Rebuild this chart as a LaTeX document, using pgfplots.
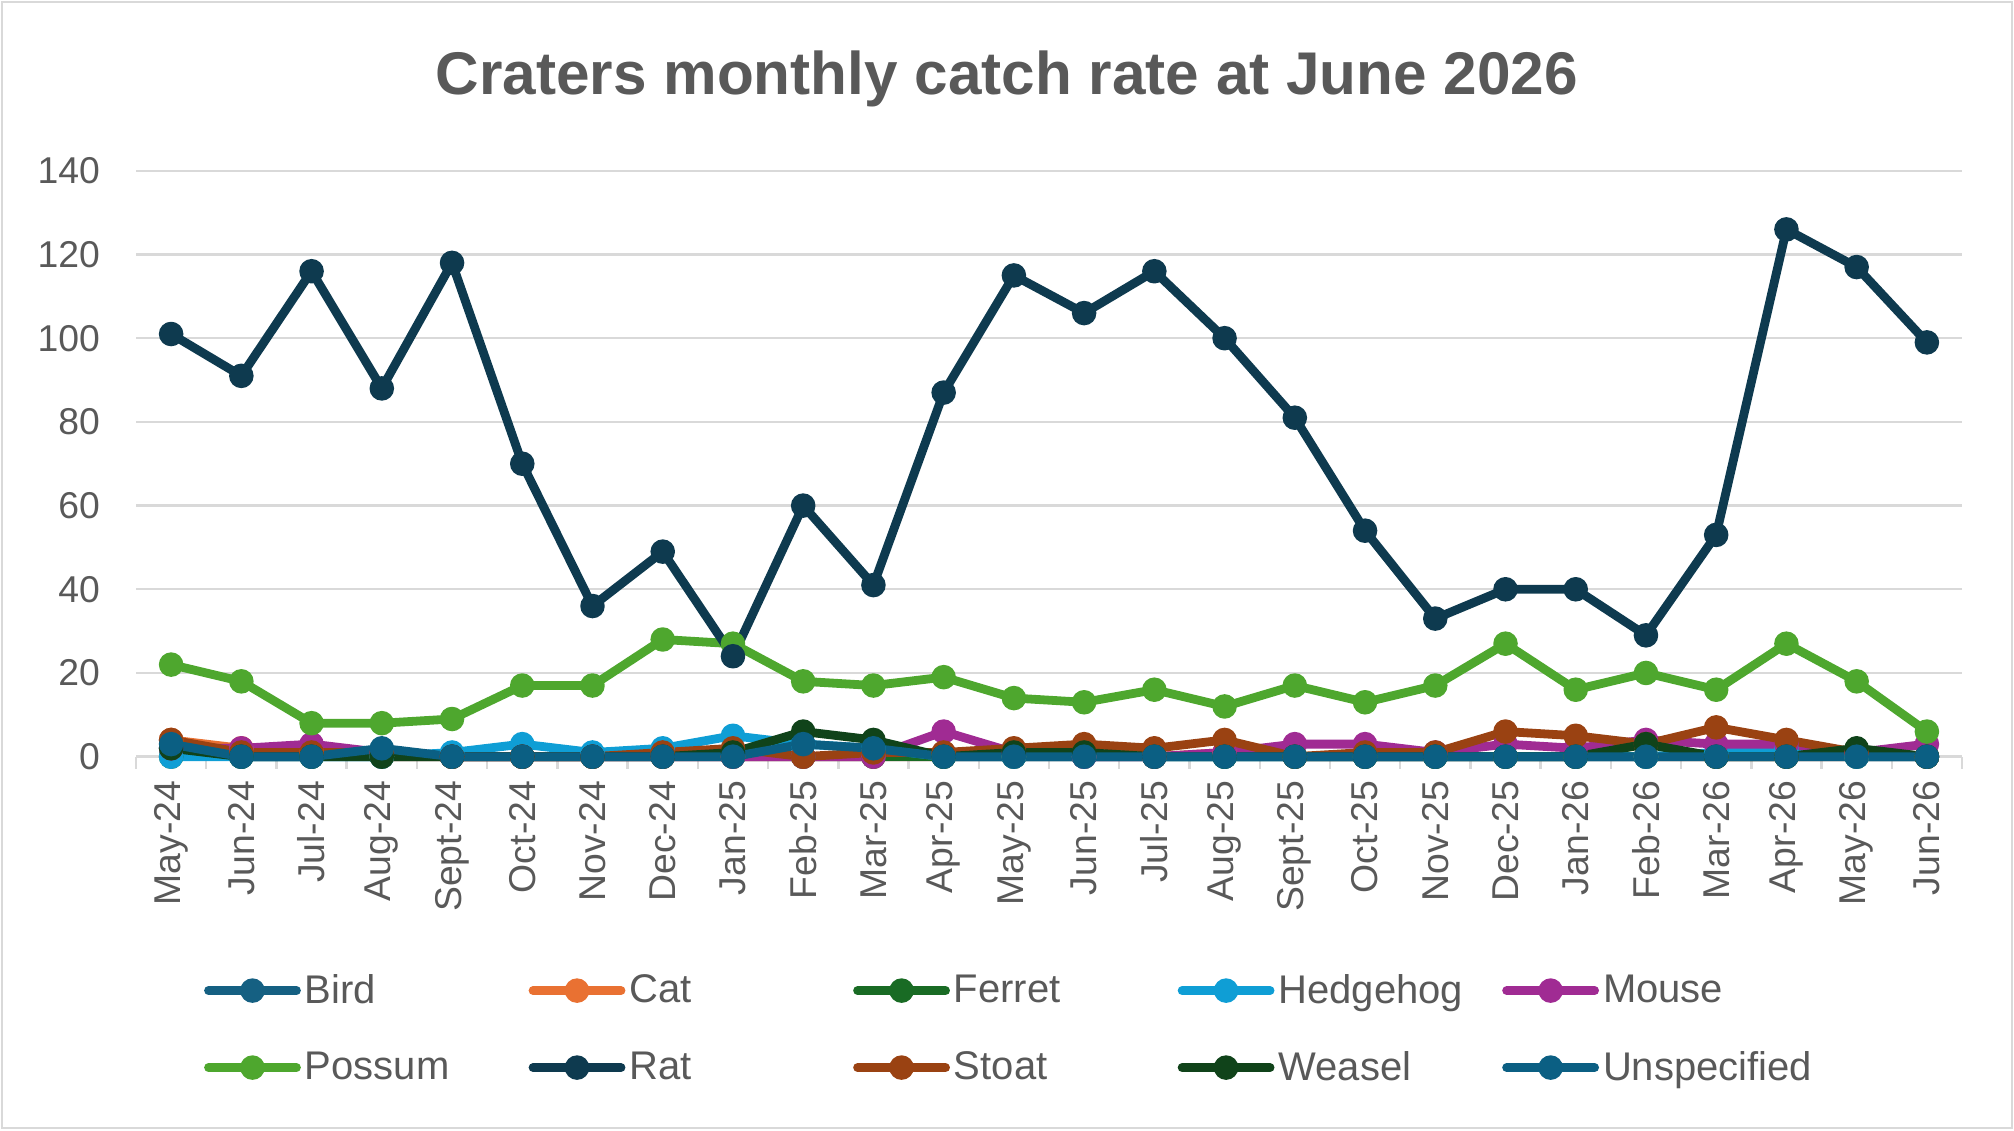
\documentclass[border=0pt]{standalone}
\usepackage{pgfplots}
\pgfplotsset{compat=1.18}
\usepackage{pgfplotstable}
\usepackage{fontspec}
\setmainfont{Liberation Sans}
\definecolor{cBird}{HTML}{156082}
\definecolor{cCat}{HTML}{E97132}
\definecolor{cFerret}{HTML}{196B24}
\definecolor{cHedgehog}{HTML}{0F9ED5}
\definecolor{cMouse}{HTML}{A02B93}
\definecolor{cPossum}{HTML}{4EA72E}
\definecolor{cRat}{HTML}{0E3A4F}
\definecolor{cStoat}{HTML}{9A4212}
\definecolor{cWeasel}{HTML}{10431A}
\definecolor{cUnspec}{HTML}{0B5F83}
\definecolor{gridgray}{HTML}{D9D9D9}
\definecolor{txtgray}{HTML}{595959}

\pgfplotstableread{
x Bird Cat Ferret Hedgehog Mouse Possum Rat Stoat Weasel Unspec
0  2 4 0 0 2 22 101 4 2 3
1  0 2 0 0 2 18 91  1 0 0
2  0 1 0 0 3 8  116 1 0 0
3  0 0 0 0 1 8  88  1 0 2
4  0 0 0 1 0 9  118 0 0 0
5  0 0 0 3 0 17 70  0 0 0
6  0 0 0 1 0 17 36  0 0 0
7  0 0 0 2 0 28 49  1 0 0
8  0 0 0 5 0 27 24  2 1 0
9  0 0 0 3 0 18 60  0 6 3
10 0 0 0 2 0 17 41  1 4 2
11 0 0 0 0 6 19 87  1 0 0
12 0 0 0 0 1 14 115 2 1 0
13 0 0 0 0 0 13 106 3 1 0
14 0 0 0 0 0 16 116 2 0 0
15 0 1 0 0 1 12 100 4 0 0
16 0 0 0 0 3 17 81  0 0 0
17 0 0 0 0 3 13 54  1 0 0
18 0 0 0 0 1 17 33  1 0 0
19 0 0 0 0 3 27 40  6 0 0
20 0 0 0 0 2 16 40  5 0 0
21 0 0 0 0 4 20 29  3 3 0
22 0 0 0 1 3 16 53  7 0 0
23 0 0 0 2 3 27 126 4 0 0
24 0 0 0 0 1 18 117 1 2 0
25 0 0 0 0 3 6  99  0 0 0
}\catch

\begin{document}
\begin{tikzpicture}[x=1pt,y=1pt]
\useasboundingbox (0,0) rectangle (755.25,423.75);
\draw[color=gridgray, line width=0.9pt] (0.7,0.7) rectangle (754.55,423.05);
\node[font=\fontsize{22.6}{26}\selectfont\bfseries, text=txtgray] at (377.6,394.2) {Craters monthly catch rate at June 2026};
\begin{axis}[
  at={(51pt,140pt)}, anchor=south west,
  scale only axis, width=684.75pt, height=219.7pt,
  xmin=-0.5, xmax=25.5, ymin=0, ymax=140,
  clip=false,
  axis line style={draw=none},
  ytick={0,20,...,140},
  ymajorgrids, grid style={gridgray, line width=0.9pt},
  major tick length=0pt,
  xtick pos=bottom,
  xtick={0,...,25},
  xticklabels={May-24,Jun-24,Jul-24,Aug-24,Sept-24,Oct-24,Nov-24,Dec-24,Jan-25,Feb-25,Mar-25,Apr-25,May-25,Jun-25,Jul-25,Aug-25,Sept-25,Oct-25,Nov-25,Dec-25,Jan-26,Feb-26,Mar-26,Apr-26,May-26,Jun-26},
  xticklabel style={rotate=90, anchor=east, xshift=-5.6pt},
  extra x ticks={-0.5,0.5,...,25.5},
  extra x tick labels={},
  extra x tick style={grid=none, major tick length=4.5pt, tick style={gridgray, line width=0.9pt}, tick align=outside},
  yticklabel style={xshift=-10pt},
  ticklabel style={font=\fontsize{14}{16}\selectfont, text=txtgray},
  /pgf/number format/assume math mode=true,
  every axis plot/.append style={line width=3.3pt, line join=round, mark=*, mark size=4.1pt, mark options={solid, line width=1pt}},
  legend columns=5,
  legend cell align=left,
  legend style={at={(0.037,-0.465)}, anchor=west, draw=none, fill=none, inner sep=0pt,
    font=\fontsize{15}{17}\selectfont, text=txtgray,
    nodes={text width=82.4pt, inner xsep=1.5pt, inner ysep=3pt, align=left},
    /tikz/every even column/.append style={column sep=0pt},
    row sep=10.5pt},
  legend image code/.code={\draw[line cap=round, mark repeat=2, mark phase=2] plot coordinates {(0pt,0pt) (16.5pt,0pt) (33pt,0pt)};},
]
\addplot[color=cBird] table[x=x,y=Bird]{\catch};
\addlegendentry{Bird}
\addplot[color=cCat] table[x=x,y=Cat]{\catch};
\addlegendentry{Cat}
\addplot[color=cFerret] table[x=x,y=Ferret]{\catch};
\addlegendentry{Ferret}
\addplot[color=cHedgehog] table[x=x,y=Hedgehog]{\catch};
\addlegendentry{Hedgehog}
\addplot[color=cMouse] table[x=x,y=Mouse]{\catch};
\addlegendentry{Mouse}
\addplot[color=cPossum] table[x=x,y=Possum]{\catch};
\addlegendentry{Possum}
\addplot[color=cRat] table[x=x,y=Rat]{\catch};
\addlegendentry{Rat}
\addplot[color=cStoat] table[x=x,y=Stoat]{\catch};
\addlegendentry{Stoat}
\addplot[color=cWeasel] table[x=x,y=Weasel]{\catch};
\addlegendentry{Weasel}
\addplot[color=cUnspec] table[x=x,y=Unspec]{\catch};
\addlegendentry{Unspecified}
\end{axis}
\end{tikzpicture}
\end{document}
